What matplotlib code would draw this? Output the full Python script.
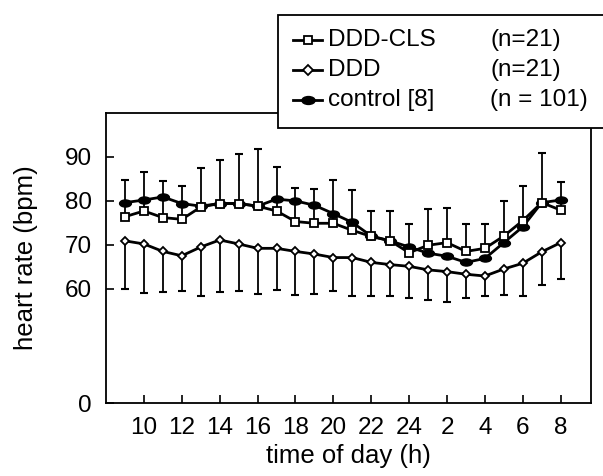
import numpy as np
import matplotlib
matplotlib.use("Agg")
import matplotlib.pyplot as plt
from matplotlib.lines import Line2D
from matplotlib.patches import Rectangle
from matplotlib.path import Path
from matplotlib.transforms import Affine2D

plt.rcParams['font.family'] = ['Liberation Sans', 'DejaVu Sans']

# hours 9..32 (i.e. 9 h to 8 h next morning)
hours = np.arange(9, 33)
tick_hours = np.arange(10, 33, 2)
tick_labels = ['10', '12', '14', '16', '18', '20', '22', '24', '2', '4', '6', '8']

cls_mean = [76.4, 77.7, 76.2, 75.8, 78.6, 79.4, 79.4, 78.8, 77.7, 75.3, 74.9, 74.9,
            73.3, 71.9, 70.9, 68.2, 69.9, 70.5, 68.5, 69.2, 72.0, 75.5, 79.6, 77.9]
cls_sd = [8.3, 8.9, 8.3, 7.6, 8.8, 9.8, 11.2, 12.9, 10.1, 7.7, 7.9, 9.8,
          9.2, 5.7, 6.8, 6.6, 8.2, 7.8, 6.3, 5.6, 8.0, 7.9, 11.2, 6.4]

ddd_mean = [70.9, 70.2, 68.5, 67.5, 69.5, 71.1, 70.2, 69.2, 69.2, 68.5, 67.9, 67.1,
            67.1, 66.0, 65.5, 65.1, 64.3, 63.9, 63.3, 62.9, 64.5, 65.8, 68.4, 70.5]
ddd_sd = [11.0, 11.2, 9.3, 8.1, 11.2, 11.9, 10.7, 10.4, 9.4, 9.9, 9.0, 7.6,
          8.7, 7.7, 7.1, 7.2, 6.8, 7.0, 5.5, 4.5, 5.9, 7.4, 7.5, 8.2]

ctrl_mean = [79.6, 80.2, 80.9, 79.4, 78.8, 79.4, 79.4, 78.8, 80.4, 80.0, 79.0, 77.1,
             75.1, 72.0, 70.9, 69.5, 68.1, 67.4, 66.0, 66.9, 70.5, 74.1, 79.6, 80.2]

cls_mean = np.array(cls_mean)
ddd_mean = np.array(ddd_mean)
cls_top = cls_mean + np.array(cls_sd)
ddd_bot = ddd_mean - np.array(ddd_sd)

# flat ellipse marker for the control curve
ellipse = Path.unit_circle().transformed(Affine2D().scale(1.0, 0.6))

fig = plt.figure(figsize=(6.03, 4.76), dpi=100)
ax = fig.add_axes([106 / 603, 1 - 403 / 476, 485 / 603, 290 / 476])

lw = 2.0
# error bars (up for DDD-CLS, down for DDD)
ax.vlines(hours, cls_mean, cls_top, color='black', lw=1.3, zorder=1)
ax.plot(hours, cls_top, ls='none', marker='_', ms=5.5, mew=1.5, color='black', zorder=1)
ax.vlines(hours, ddd_bot, ddd_mean, color='black', lw=1.3, zorder=1)
ax.plot(hours, ddd_bot, ls='none', marker='_', ms=5.5, mew=1.5, color='black', zorder=1)

ax.plot(hours, ctrl_mean, color='black', lw=lw, marker=ellipse, ms=8.5,
        mfc='black', mec='black', zorder=2)
ax.plot(hours, ddd_mean, color='black', lw=lw, marker='D', ms=4.4,
        mfc='white', mec='black', mew=1.3, zorder=3)
ax.plot(hours, cls_mean, color='black', lw=lw, marker='s', ms=5.4,
        mfc='white', mec='black', mew=1.3, zorder=4)

ax.set_xlim(8, 33.6)
ax.set_ylim(34, 100)
ax.set_xticks(tick_hours)
ax.set_xticklabels(tick_labels)
ax.set_yticks([34, 60, 70, 80, 90])
ax.set_yticklabels(['0', '60', '70', '80', '90'])
ax.tick_params(direction='in', length=5.5, width=1.2, labelsize=17.5)
ax.tick_params(axis='y', pad=10)
ax.tick_params(axis='x', pad=10)
for s in ax.spines.values():
    s.set_linewidth(1.3)

ax.set_xlabel('time of day (h)', fontsize=18.5)
ax.set_ylabel('heart rate (bpm)', fontsize=18.5)
ax.xaxis.set_label_coords(0.5, -0.14)
ax.yaxis.set_label_coords(-0.14, 0.5)

# legend box drawn by hand, running off the right edge
box = Rectangle((278 / 603, 1 - 128 / 476), 0.6, 113 / 476, transform=fig.transFigure,
                facecolor='white', edgecolor='black', lw=1.3, clip_on=False, zorder=5)
fig.add_artist(box)

names = ['DDD-CLS', 'DDD', 'control [8]']
counts = ['(n=21)', '(n=21)', '(n = 101)']
styles = [dict(marker='s', ms=6, mfc='white', mew=1.3),
          dict(marker='D', ms=5, mfc='white', mew=1.3),
          dict(marker=ellipse, ms=9.5, mfc='black')]
rows_px = [40, 70, 100]
for name, cnt, st, ypx in zip(names, counts, styles, rows_px):
    fy = 1 - ypx / 476
    fig.add_artist(Line2D([293 / 603, 322 / 603], [fy, fy], transform=fig.transFigure,
                          color='black', lw=lw, zorder=6))
    fig.add_artist(Line2D([308 / 603], [fy], transform=fig.transFigure, color='black',
                          mec='black', zorder=7, ls='none', **st))
    fig.text(328 / 603, fy, name, fontsize=17.5, va='center', ha='left', zorder=7)
    fig.text(490 / 603, fy, cnt, fontsize=17.5, va='center', ha='left', zorder=7)

fig.savefig('out.png', dpi=100)
